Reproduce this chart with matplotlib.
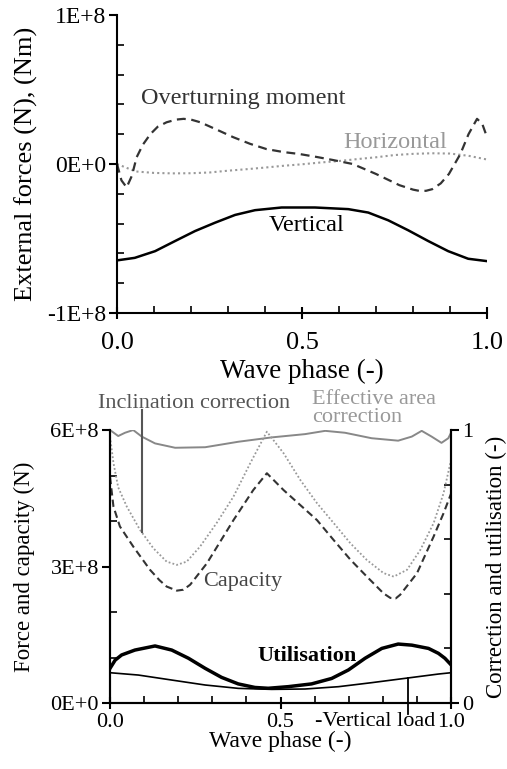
import matplotlib
matplotlib.use("Agg")
import matplotlib.pyplot as plt
from matplotlib.ticker import MultipleLocator, FixedLocator, FixedFormatter

plt.rcParams['font.family'] = ['Liberation Serif', 'DejaVu Serif']

# ---------------- data: top panel (external forces, units of 1E+7) -------------
phase_vert = [0.0, 0.048, 0.103, 0.157, 0.211, 0.265, 0.319, 0.373, 0.445, 0.535,
              0.625, 0.679, 0.733, 0.787, 0.841, 0.895, 0.949, 1.0]
vertical = [-6.47, -6.3, -5.85, -5.17, -4.5, -3.94, -3.42, -3.1, -2.92, -2.92,
            -3.03, -3.26, -3.78, -4.45, -5.17, -5.85, -6.36, -6.52]
phase_hor = [0.0, 0.05, 0.1, 0.15, 0.2, 0.25, 0.3, 0.35, 0.4, 0.45, 0.5,
             0.55, 0.6, 0.65, 0.7, 0.75, 0.8, 0.85, 0.9, 0.95, 1.0]
horizontal = [0.0, -0.5, -0.6, -0.63, -0.62, -0.57, -0.45, -0.35, -0.24, -0.12, -0.02,
              0.1, 0.2, 0.33, 0.45, 0.6, 0.68, 0.72, 0.7, 0.55, 0.3]
phase_moment = [0.0, 0.012, 0.026, 0.04, 0.053, 0.07, 0.09, 0.11, 0.134, 0.16, 0.18,
                0.2, 0.225, 0.27, 0.314, 0.36, 0.404, 0.45, 0.493, 0.54, 0.583, 0.637,
                0.7, 0.763, 0.8, 0.816, 0.835, 0.852, 0.875, 0.897, 0.928, 0.95,
                0.973, 0.987, 1.0]
moment = [0.0, -1.1, -1.57, -0.8, 0.45, 1.3, 2.0, 2.5, 2.8, 2.98, 3.03,
          2.98, 2.8, 2.3, 1.8, 1.35, 1.0, 0.8, 0.67, 0.47, 0.27, 0.0,
          -0.67, -1.42, -1.72, -1.8, -1.8, -1.69, -1.3, -0.67, 0.67, 2.0,
          3.03, 2.7, 1.8]

# ---------------- data: bottom panel -------------------------------------------
phase_eff = [0.0, 0.024, 0.044, 0.068, 0.093, 0.132, 0.191, 0.279, 0.376, 0.474,
             0.572, 0.631, 0.689, 0.767, 0.845, 0.885, 0.914, 0.943, 0.972, 0.992, 1.0]
eff_area = [1.0, 0.978, 0.99, 1.0, 0.976, 0.951, 0.935, 0.937, 0.957, 0.973,
            0.985, 0.997, 0.99, 0.97, 0.961, 0.976, 0.997, 0.976, 0.953, 0.97, 0.99]

phase_incl = [0.0, 0.01, 0.024, 0.049, 0.088, 0.127, 0.166, 0.196, 0.225, 0.264,
              0.313, 0.362, 0.411, 0.46, 0.509, 0.558, 0.607, 0.656, 0.705, 0.753,
              0.802, 0.832, 0.871, 0.91, 0.949, 0.978, 1.0]
incl_corr = [0.976, 0.88, 0.79, 0.72, 0.634, 0.567, 0.518, 0.506, 0.518, 0.573,
             0.66, 0.756, 0.878, 0.994, 0.915, 0.817, 0.732, 0.659, 0.585, 0.524,
             0.476, 0.463, 0.488, 0.561, 0.659, 0.768, 0.89]

phase_cap = [0.0, 0.01, 0.029, 0.068, 0.117, 0.145, 0.166, 0.196, 0.215, 0.235, 0.284,
             0.362, 0.42, 0.46, 0.509, 0.558, 0.607, 0.656, 0.705, 0.753, 0.802,
             0.822, 0.838, 0.851, 0.9, 0.949, 0.978, 1.0]
capacity = [4.97, 4.32, 3.88, 3.44, 2.93, 2.7, 2.56, 2.47, 2.49, 2.6, 3.07,
            4.02, 4.68, 5.05, 4.68, 4.35, 4.02, 3.58, 3.15, 2.78, 2.41,
            2.31, 2.3, 2.38, 2.85, 3.66, 4.17, 4.6]  # units of 1E+8

phase_util = [0.0, 0.015, 0.034, 0.073, 0.132, 0.181, 0.23, 0.279, 0.327, 0.376,
              0.425, 0.464, 0.523, 0.591, 0.65, 0.699, 0.748, 0.797, 0.845, 0.885,
              0.934, 0.963, 0.982, 1.0]
utilisation = [0.127, 0.157, 0.176, 0.194, 0.209, 0.194, 0.164, 0.127, 0.094, 0.07,
               0.057, 0.054, 0.06, 0.07, 0.09, 0.121, 0.164, 0.2, 0.216, 0.212,
               0.2, 0.182, 0.164, 0.14]

phase_vl = [0.0, 0.083, 0.181, 0.279, 0.376, 0.474, 0.572, 0.67, 0.767, 0.865, 0.963, 1.0]
vert_load = [0.666, 0.615, 0.505, 0.396, 0.322, 0.3, 0.308, 0.359, 0.447, 0.542, 0.637, 0.666]  # 1E+8

top_yticks = [-1e8, 0, 1e8]
top_yticklabels = ["-1E+8", "0E+0", "1E+8"]
bot_yticks = [0, 3e8, 6e8]
bot_yticklabels = ["0E+0", "3E+8", "6E+8"]
xticks = [0.0, 0.5, 1.0]
xticklabels = ["0.0", "0.5", "1.0"]

fig = plt.figure(figsize=(5.07, 7.69), dpi=100)

# ================= top panel =================
ax1 = fig.add_axes([0.2308, 0.593, 0.7298, 0.3875])
s7 = 1e7
ax1.plot(phase_vert, [v * s7 for v in vertical], color='black', lw=1.8)
ax1.plot(phase_hor, [v * s7 for v in horizontal], color='#999999', lw=1.5, ls=(0, (1, 1.5)))
ax1.plot(phase_moment, [v * s7 for v in moment], color='#333333', lw=1.6, ls=(0, (4, 2.5)))
ax1.set_xlim(0, 1)
ax1.set_ylim(-1e8, 1e8)
for sp in ['top', 'right']:
    ax1.spines[sp].set_visible(False)
for sp in ['left', 'bottom']:
    ax1.spines[sp].set_linewidth(1.5)
ax1.yaxis.set_major_locator(FixedLocator(top_yticks))
ax1.yaxis.set_major_formatter(FixedFormatter(top_yticklabels))
ax1.yaxis.set_minor_locator(MultipleLocator(2e7))
ax1.xaxis.set_major_locator(FixedLocator(xticks))
ax1.xaxis.set_major_formatter(FixedFormatter(xticklabels))
ax1.xaxis.set_minor_locator(MultipleLocator(0.1))
ax1.tick_params(axis='y', which='major', direction='out', length=6, width=1.5, labelsize=17, pad=2)
ax1.tick_params(axis='y', which='minor', direction='in', length=5, width=1.2)
ax1.tick_params(axis='x', which='major', direction='inout', length=8, width=1.5, labelsize=19, pad=10)
ax1.tick_params(axis='x', which='minor', direction='in', length=5, width=1.2)
ax1.set_xlabel("Wave phase (-)", fontsize=19.5, labelpad=3)
ax1.set_ylabel("External forces (N), (Nm)", fontsize=19, labelpad=6.5)
ax1.text(0.341, 4.38e7, "Overturning moment", fontsize=17.5, color='#333333', ha='center', va='center')
ax1.text(0.752, 1.46e7, "Horizontal", fontsize=17.5, color='#999999', ha='center', va='center')
ax1.text(0.513, -4.16e7, "Vertical", fontsize=17.5, color='black', ha='center', va='center')

# ================= bottom panel =================
ax2 = fig.add_axes([0.217, 0.0858, 0.6726, 0.355])
ax3 = ax2.twinx()
s8 = 1e8
ax2.plot(phase_cap, [v * s8 for v in capacity], color='#333333', lw=1.5, ls=(0, (3.5, 2)))
ax2.plot(phase_vl, [v * s8 for v in vert_load], color='black', lw=1.2)
ax3.plot(phase_eff, eff_area, color='#888888', lw=1.4)
ax3.plot(phase_incl, incl_corr, color='#999999', lw=1.3, ls=(0, (1, 1.2)))
ax3.plot(phase_util, utilisation, color='black', lw=2.5)
ax2.set_xlim(0, 1)
ax2.set_ylim(0, 6e8)
ax3.set_ylim(0, 1)
ax2.spines['top'].set_visible(False)
ax3.spines['top'].set_visible(False)
for a in (ax2, ax3):
    for sp in ['left', 'bottom', 'right']:
        a.spines[sp].set_linewidth(1.5)
ax2.yaxis.set_major_locator(FixedLocator(bot_yticks))
ax2.yaxis.set_major_formatter(FixedFormatter(bot_yticklabels))
ax2.yaxis.set_minor_locator(MultipleLocator(1e8))
ax2.xaxis.set_major_locator(FixedLocator(xticks))
ax2.xaxis.set_major_formatter(FixedFormatter(xticklabels))
ax2.xaxis.set_minor_locator(MultipleLocator(0.1))
ax3.yaxis.set_major_locator(FixedLocator([0, 1]))
ax3.yaxis.set_major_formatter(FixedFormatter(["0", "1"]))
ax3.yaxis.set_minor_locator(MultipleLocator(0.2))
ax2.tick_params(axis='y', which='major', direction='out', length=6, width=1.5, labelsize=16, pad=2)
ax2.tick_params(axis='y', which='minor', direction='in', length=5, width=1.2)
ax2.tick_params(axis='x', which='major', direction='inout', length=8, width=1.5, labelsize=16, pad=3)
ax2.tick_params(axis='x', which='minor', direction='in', length=5, width=1.2)
ax3.tick_params(axis='y', which='major', direction='out', length=6, width=1.5, labelsize=16, pad=2)
ax3.tick_params(axis='y', which='minor', direction='in', length=5, width=1.2)
ax2.set_xlabel("Wave phase (-)", fontsize=17, labelpad=-1)
ax2.set_ylabel("Force and capacity (N)", fontsize=16.5, labelpad=11)
ax3.set_ylabel("Correction and utilisation (-)", fontsize=16.5, labelpad=9)

ax3.text(0.274, 0.445, "Capacity", fontsize=16, color='#444444', ha='left', va='center')
ax3.text(0.577, 0.171, "Utilisation", fontsize=16, color='black', ha='center', va='center',
         fontweight='bold')
ax3.text(0.245, 1.098, "Inclination correction", fontsize=16, color='#555555', ha='center',
         va='center', clip_on=False)
ax3.plot([0.095, 0.095], [1.073, 0.628], color='#555555', lw=1.5, clip_on=False)
ax3.text(0.592, 1.079, "Effective area\ncorrection", fontsize=16, color='#999999', ha='left',
         va='center', linespacing=0.95, clip_on=False)
ax3.plot([0.873, 0.873], [0.09, -0.04], color='black', lw=1.3, clip_on=False)
ax3.text(0.954, -0.068, "-Vertical load", fontsize=16, color='black', ha='right',
         va='center', clip_on=False)

fig.savefig("out.png", dpi=100)
